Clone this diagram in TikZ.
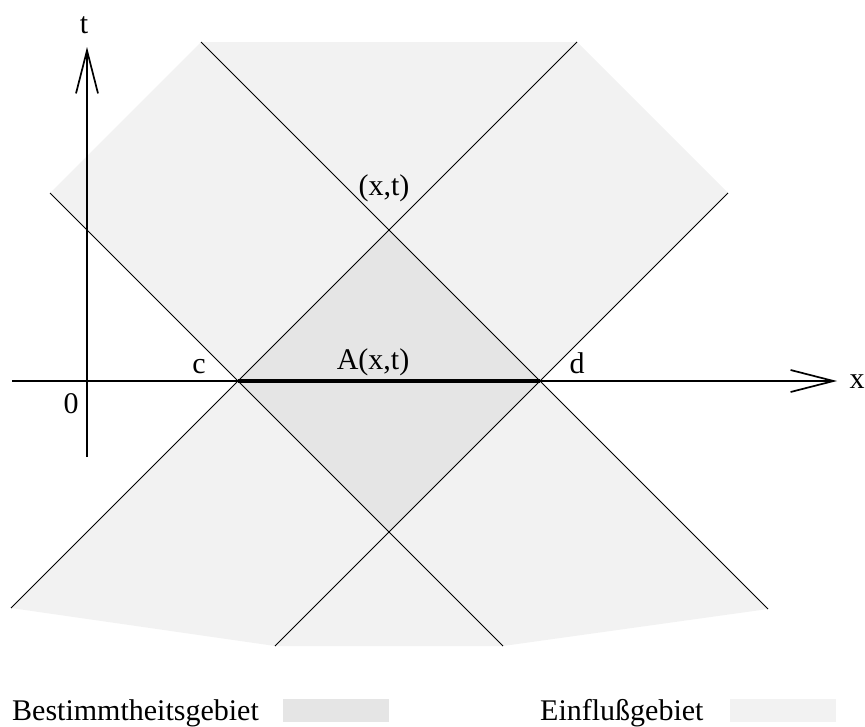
\documentclass[tikz,border=0pt]{standalone}
\usepackage{fontspec}
\setmainfont{Liberation Serif}
\usetikzlibrary{arrows.meta}
\definecolor{gebiet-bestimmt}{gray}{0.898}
\definecolor{gebiet-einfluss}{gray}{0.949}

\begin{document}
\begin{tikzpicture}[
    x=1pt, y=-1pt,
    every node/.style={font=\fontsize{30}{36}\selectfont, inner sep=0pt},
    achse/.style={line width=1.7pt, -{Straight Barb[length=43pt, width=22pt]}},
    charakteristik/.style={line width=0.9pt},
    lbl/.style={anchor=base},
    legende/.style={anchor=base west},
    kasten/.style={rectangle, minimum width=106pt, minimum height=23pt},
  ]
    \useasboundingbox (0,0) rectangle (865,726);
    % Punkte
    \coordinate (c)  at (238,381);
    \coordinate (d)  at (540,381);
    \coordinate (xt) at (389,230);
    \coordinate (u)  at (389,532);
    \coordinate (o1) at (201,42);
    \coordinate (o2) at (577,42);
    \coordinate (r1) at (728,193);
    \coordinate (r2) at (768,609);
    \coordinate (u2) at (503,646);
    \coordinate (u1) at (275,646);
    \coordinate (l2) at (11,608);
    \coordinate (l1) at (50,193);
    \coordinate (t0) at (87,457);
    \coordinate (t1) at (87,47);
    \coordinate (x0) at (12,381);
    \coordinate (x1) at (837,381);

    % Gebiete
    \fill[gebiet-einfluss] (o1) -- (o2) -- (r1) -- (d) -- (r2) -- (u2)
      -- (u1) -- (l2) -- (c) -- (l1) -- cycle;
    \fill[gebiet-bestimmt] (c) -- (xt) -- (d) -- (u) -- cycle;

    % Charakteristiken
    \draw[charakteristik] (o1) -- (r2);
    \draw[charakteristik] (o2) -- (l2);
    \draw[charakteristik] (l1) -- (u2);
    \draw[charakteristik] (r1) -- (u1);

    % Achsen
    \draw[achse] (x0) -- (x1);
    \draw[achse] (t0) -- (t1);
    \draw[line width=3.5pt] (c) -- (d);

    \node[lbl] (tlab) at (84,33) {t};
    \node[lbl] (xlab) at (857,388) {x};
    \node[lbl] (null) at (71,413) {0};
    \node[lbl] (clab) at (199,373) {c};
    \node[lbl] (dlab) at (577,373) {d};
    \node[lbl] (xtlab) at (384,195) {(x,t)};
    \node[lbl] (alab) at (373,369) {A(x,t)};

    % Legende
    \node[legende] (bestimmt) at (12,720) {Bestimmtheitsgebiet};
    \node[kasten, fill=gebiet-bestimmt] (kb) at (336,710.5) {};
    \node[legende] (einfluss) at (540,720) {Einflußgebiet};
    \node[kasten, fill=gebiet-einfluss] (ke) at (783,710.5) {};
\end{tikzpicture}
\end{document}
